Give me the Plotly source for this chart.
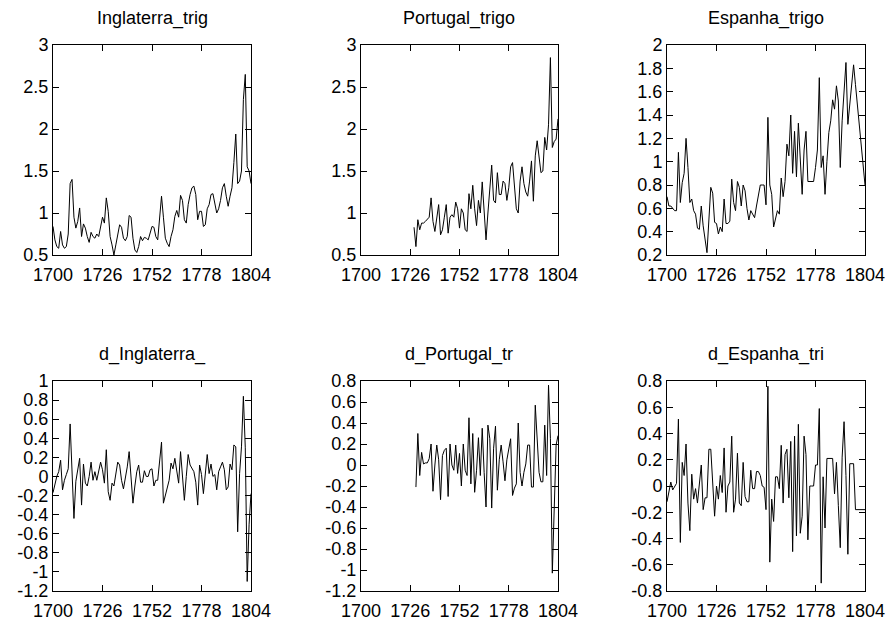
import plotly.graph_objects as go

years = list(range(1700, 1805))
portugal_years = list(range(1728, 1805))
d_portugal_years = list(range(1729, 1805))

x_ticks = [1700, 1726, 1752, 1778, 1804]

inglaterra = [
    0.84, 0.68, 0.60, 0.58, 0.78, 0.62, 0.58, 0.60, 0.75, 1.35,
    1.40, 0.95, 0.82, 0.90, 1.06, 0.72, 0.87, 0.82, 0.72, 0.65,
    0.77, 0.72, 0.70, 0.75, 0.72, 0.85, 0.95, 0.88, 1.18, 1.02,
    0.72, 0.62, 0.50, 0.62, 0.75, 0.86, 0.83, 0.70, 0.67, 0.72,
    0.97, 0.95, 0.70, 0.56, 0.53, 0.60, 0.72, 0.67, 0.71, 0.70,
    0.68, 0.76, 0.84, 0.83, 0.72, 0.68, 0.90, 1.20, 0.95, 0.70,
    0.64, 0.60, 0.72, 0.80, 0.96, 1.03, 0.95, 1.21, 1.15, 0.92,
    0.88, 1.10, 1.22, 1.30, 1.32, 1.22, 0.92, 1.02, 1.02, 0.84,
    0.86, 1.05, 1.10, 1.22, 1.23, 1.12, 1.00, 1.05, 1.15, 1.30,
    1.35, 1.20, 1.08, 1.20, 1.30, 1.60, 1.94, 1.35, 1.38, 1.50,
    2.35, 2.65, 1.55, 1.50, 1.35,
]

portugal = [
    0.83, 0.60, 0.92, 0.80, 0.88, 0.88, 0.90, 0.92, 0.95, 1.18,
    0.90, 0.78, 0.95, 1.10, 0.74, 0.80, 0.95, 1.10, 0.76, 0.95,
    0.98, 0.95, 1.13, 1.05, 0.82, 1.05, 1.00, 0.80, 0.78, 1.23,
    1.05, 1.33, 1.05, 0.85, 1.15, 1.00, 1.37, 1.00, 0.68, 1.00,
    1.30, 1.57, 1.15, 1.12, 1.48, 1.22, 1.22, 1.38, 1.35, 1.15,
    1.30, 1.55, 1.60, 1.35, 1.05, 1.00, 1.38, 1.55, 1.35, 1.25,
    1.20, 1.38, 1.62, 1.14, 1.68, 1.86, 1.70, 1.48, 1.50, 1.90,
    1.75, 2.05, 2.85, 1.78, 1.85, 1.88, 2.12,
]

espanha = [
    0.70, 0.62, 0.62, 0.60, 0.58, 0.58, 1.08, 0.65, 0.82, 0.90,
    1.20, 0.95, 0.65, 0.68, 0.58, 0.55, 0.43, 0.42, 0.62, 0.45,
    0.35, 0.22, 0.50, 0.78, 0.73, 0.48, 0.47, 0.38, 0.44, 0.40,
    0.68, 0.47, 0.47, 0.49, 0.85, 0.65, 0.58, 0.83, 0.78, 0.62,
    0.80, 0.75, 0.60, 0.50, 0.58, 0.55, 0.52, 0.62, 0.72, 0.80,
    0.80, 0.80, 0.63, 1.38, 0.80, 0.72, 0.44, 0.50, 0.58, 0.55,
    0.86, 0.70, 0.83, 1.15, 1.05, 1.40, 0.90, 1.26, 0.87, 1.33,
    1.00, 0.72, 1.10, 1.26, 0.83, 0.83, 0.83, 0.83, 0.95, 1.10,
    1.72, 0.95, 1.05, 0.72, 1.00, 1.25, 1.35, 1.53, 1.45, 1.65,
    1.52, 0.95, 1.35, 1.60, 1.85, 1.32, 1.49, 1.66, 1.83, 1.66,
    1.48, 1.30, 1.12, 0.95, 0.80,
]

d_inglaterra = [
    -0.17, -0.08, 0.00, 0.05, 0.17, -0.14, -0.04, 0.02, 0.08, 0.55,
    0.05, -0.44, -0.05, 0.08, 0.19, -0.30, 0.13, -0.07, -0.10, 0.00,
    0.15, -0.04, 0.05, -0.04, 0.05, 0.15, 0.07, -0.07, 0.28, -0.16,
    -0.25, -0.07, -0.10, 0.05, 0.15, 0.12, -0.04, -0.13, -0.02, 0.10,
    0.26, -0.05, -0.28, -0.10, 0.05, 0.12, -0.06, -0.06, 0.06, 0.00,
    0.00, 0.07, 0.08, -0.10, -0.04, -0.04, 0.15, 0.36, -0.28, -0.20,
    -0.14, -0.04, 0.14, 0.08, 0.19, 0.07, -0.07, 0.26, 0.00, -0.25,
    0.00, 0.23, 0.12, 0.08, 0.05, -0.06, -0.30, 0.12, 0.02, -0.18,
    0.05, 0.23, 0.03, 0.13, 0.00, 0.02, -0.14, 0.05, 0.10, 0.15,
    0.07, -0.14, -0.11, 0.13, 0.07, 0.33, 0.31, -0.58, 0.03, 0.31,
    0.84, 0.30, -1.10, -0.50, -0.18,
]

d_portugal = [
    -0.21, 0.30, -0.10, 0.12, 0.01, 0.02, 0.02, 0.06, 0.20, -0.25,
    0.00, 0.19, 0.05, -0.33, 0.09, 0.14, 0.16, -0.30, 0.20, 0.00,
    -0.05, 0.19, -0.08, 0.11, -0.20, 0.20, -0.05, -0.10, 0.45, -0.18,
    0.30, -0.26, -0.05, 0.26, -0.10, 0.35, -0.07, -0.40, 0.38, 0.25,
    -0.41, 0.16, 0.37, -0.24, 0.05, 0.19, 0.03, -0.15, 0.05, 0.17,
    0.25, -0.29, -0.22, -0.18, 0.40, -0.07, -0.20, -0.07, 0.01, 0.19,
    0.19, -0.21, -0.21, 0.57, 0.20, -0.07, -0.16, -0.16, 0.38, -0.10,
    0.76, 0.25, -1.03, -0.40, 0.19, 0.28,
]

d_espanha = [
    -0.12, -0.05, 0.03, -0.03, 0.00, 0.02, 0.51, -0.43, 0.18, 0.08,
    0.32, -0.13, -0.34, 0.09, -0.10, -0.02, -0.13, 0.00, 0.16, -0.18,
    -0.09, -0.09, 0.28, 0.28, 0.00, -0.23, 0.00, -0.10, 0.08, -0.05,
    0.29, -0.20, 0.00, 0.03, 0.38, -0.20, -0.10, 0.25, -0.13, -0.15,
    0.18, -0.08, -0.12, -0.12, 0.12, -0.02, -0.02, 0.11, 0.11, 0.08,
    0.00, -0.01, -0.18, 0.76, -0.58, -0.10, -0.27, 0.07, 0.07, -0.02,
    0.31, -0.13, 0.24, 0.28, -0.09, 0.34, -0.50, 0.38, -0.38, 0.47,
    -0.36, -0.23, 0.38, 0.24, -0.41, 0.00, 0.00, 0.00, 0.16, 0.16,
    0.59, -0.74, 0.07, -0.32, 0.21, 0.21, 0.21, 0.21, -0.06, 0.18,
    -0.15, -0.47, 0.22, 0.49, 0.08, -0.52, 0.17, 0.17, 0.17, -0.18,
    -0.18, -0.18, -0.18, -0.18, -0.18,
]

titles = ["Inglaterra_trig", "Portugal_trigo", "Espanha_trigo",
          "d_Inglaterra_", "d_Portugal_tr", "d_Espanha_tri"]

yticks_level = [0.5, 1, 1.5, 2, 2.5, 3]
yticks_level_text = ["0.5", "1", "1.5", "2", "2.5", "3"]
yticks_esp = [0.2, 0.4, 0.6, 0.8, 1.0, 1.2, 1.4, 1.6, 1.8, 2.0]
yticks_esp_text = ["0.2", "0.4", "0.6", "0.8", "1", "1.2", "1.4", "1.6", "1.8", "2"]
yticks_d1 = [-1.2, -1.0, -0.8, -0.6, -0.4, -0.2, 0, 0.2, 0.4, 0.6, 0.8, 1.0]
yticks_d1_text = ["-1.2", "-1", "-0.8", "-0.6", "-0.4", "-0.2", "0", "0.2", "0.4", "0.6", "0.8", "1"]
yticks_d2 = [-1.2, -1.0, -0.8, -0.6, -0.4, -0.2, 0, 0.2, 0.4, 0.6, 0.8]
yticks_d2_text = ["-1.2", "-1", "-0.8", "-0.6", "-0.4", "-0.2", "0", "0.2", "0.4", "0.6", "0.8"]
yticks_d3 = [-0.8, -0.6, -0.4, -0.2, 0, 0.2, 0.4, 0.6, 0.8]
yticks_d3_text = ["-0.8", "-0.6", "-0.4", "-0.2", "0", "0.2", "0.4", "0.6", "0.8"]

series = [
    (years, inglaterra, [0.5, 3], yticks_level, yticks_level_text),
    (portugal_years, portugal, [0.5, 3], yticks_level, yticks_level_text),
    (years, espanha, [0.2, 2], yticks_esp, yticks_esp_text),
    (years, d_inglaterra, [-1.2, 1], yticks_d1, yticks_d1_text),
    (d_portugal_years, d_portugal, [-1.2, 0.8], yticks_d2, yticks_d2_text),
    (years, d_espanha, [-0.8, 0.8], yticks_d3, yticks_d3_text),
]

W, H = 890, 621
# plot boxes in pixels (left, right, top, bottom)
boxes = [
    (53, 251, 45, 255), (361, 558, 45, 255), (667, 865, 45, 255),
    (53, 251, 381, 591), (361, 558, 381, 591), (667, 865, 381, 591),
]

FONT = "Liberation Sans, Arial, sans-serif"
FS = 18
fig = go.Figure()
layout = dict(
    template="none",
    width=W, height=H, autosize=False,
    margin=dict(l=0, r=0, t=0, b=0, pad=0, autoexpand=False),
    paper_bgcolor="white", plot_bgcolor="white", showlegend=False,
    font=dict(family=FONT, size=FS, color="black"),
    annotations=[],
)

for i, (xs, ys, yr, yt, ytt) in enumerate(series):
    n = "" if i == 0 else str(i + 1)
    l, r, t, b = boxes[i]
    fig.add_trace(go.Scatter(x=xs, y=ys, mode="lines",
                             line=dict(color="black", width=1),
                             xaxis="x" + n, yaxis="y" + n,
                             hoverinfo="skip"))
    common = dict(showline=True, mirror="ticks", linecolor="black", linewidth=1,
                  ticks="inside", ticklen=6, tickwidth=1, tickcolor="black",
                  showgrid=False, zeroline=False, automargin=False,
                  tickfont=dict(family=FONT, size=FS, color="black"))
    layout["xaxis" + n] = dict(domain=[l / W, r / W], range=[1700, 1804],
                               tickvals=x_ticks, ticktext=[str(v) for v in x_ticks],
                               anchor="y" + n, ticklabelstandoff=3, **common)
    layout["yaxis" + n] = dict(domain=[1 - b / H, 1 - t / H], range=yr,
                               tickvals=yt, ticktext=ytt,
                               anchor="x" + n, **common)
    ty = 18 if i < 3 else 354
    layout["annotations"].append(dict(
        text=titles[i], x=(l + r) / 2 / W, y=1 - ty / H, xref="paper", yref="paper",
        xanchor="center", yanchor="middle", showarrow=False,
        font=dict(family=FONT, size=FS, color="black")))

fig.update_layout(**layout)
fig.write_html("out.html", config={"responsive": False, "displayModeBar": False},
               post_script="document.body.style.margin='0';document.body.style.padding='0';")
